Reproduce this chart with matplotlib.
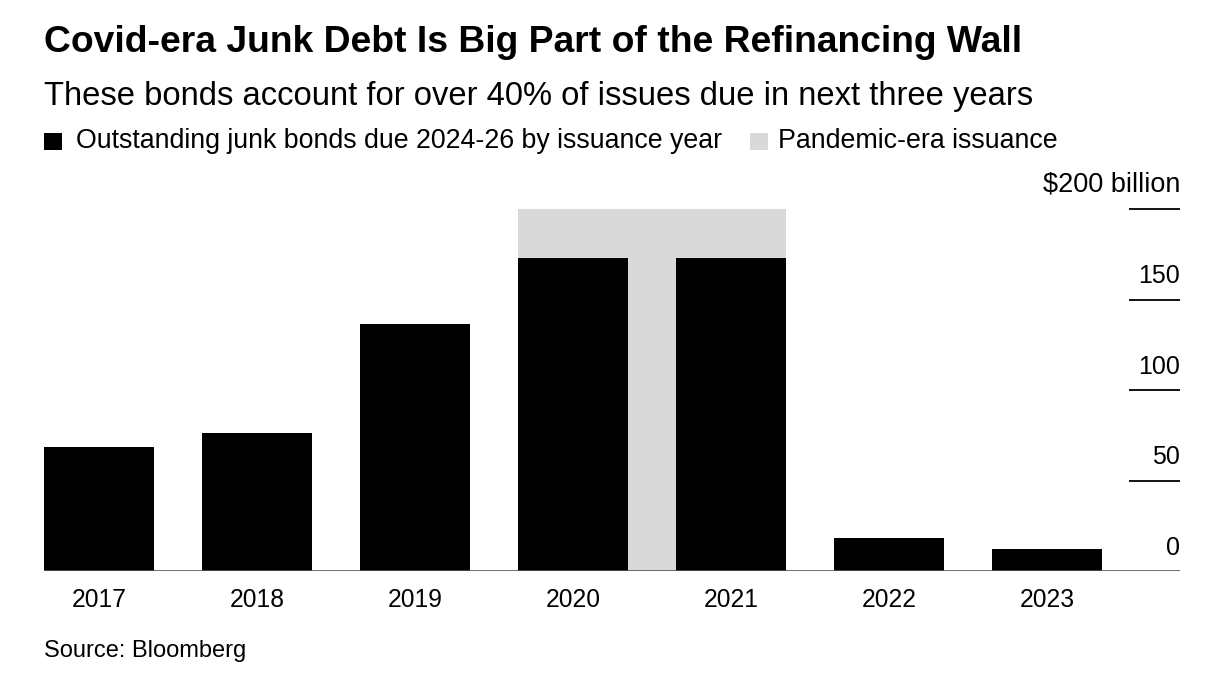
import matplotlib
matplotlib.use("Agg")
import matplotlib.pyplot as plt
from matplotlib.patches import Rectangle
import numpy as np

plt.rcParams['font.family'] = ['Liberation Sans', 'DejaVu Sans']

# --- data ---
years = ['2017', '2018', '2019', '2020', '2021', '2022', '2023']
outstanding = [68.3, 76.4, 136.5, 172.7, 172.7, 18.3, 12.2]   # $ billion
pandemic_years = ['2020', '2021']
pandemic_top = 200
yticks = [0, 50, 100, 150, 200]
ytick_labels = ['0', '50', '100', '150', '$200 billion']

W, H = 1208, 678
fig = plt.figure(figsize=(W / 100, H / 100), dpi=100)
ax = fig.add_axes([44 / W, 1 - 571 / H, (1180 - 44) / W, (571 - 209) / H])

x = np.arange(len(years))
bar_w = 0.696

# shaded pandemic span, behind the bars
i0 = years.index(pandemic_years[0])
i1 = years.index(pandemic_years[-1])
ax.add_patch(Rectangle((i0 - bar_w / 2, 0), (i1 - i0) + bar_w, pandemic_top,
                       facecolor='#d9d9d9', edgecolor='none', zorder=1))

ax.bar(x, outstanding, width=bar_w, color='black', zorder=2)

ax.set_xlim(-0.348, 6.84)
ax.set_ylim(0, 200)
for s in ax.spines.values():
    s.set_visible(False)
ax.set_yticks([])
ax.set_xticks(x)
ax.set_xticklabels(years, fontsize=17.7)
ax.tick_params(axis='x', length=0, pad=12)

# baseline
ax.axhline(0, color='#555555', lw=1.2, zorder=3)

# right-side value axis: short lines with labels sitting above
x_tick0, x_tick1 = 6.52, 6.84
for v, lab in zip(yticks, ytick_labels):
    if v > 0:
        ax.hlines(v, x_tick0, x_tick1, color='black', lw=1.3, clip_on=False, zorder=3)
    fs = 19.5 if v == yticks[-1] else 18
    ax.annotate(lab, (x_tick1, v), xytext=(0, 8), textcoords='offset points',
                ha='right', va='bottom', fontsize=fs, annotation_clip=False)

# titles
fig.text(44 / W, 1 - 43 / H, 'Covid-era Junk Debt Is Big Part of the Refinancing Wall',
         fontsize=26.8, fontweight='bold', va='center', ha='left')
fig.text(44 / W, 1 - 97 / H, 'These bonds account for over 40% of issues due in next three years',
         fontsize=23.6, va='center', ha='left')

# legend
fig.patches.append(Rectangle((44 / W, 1 - 150 / H), 18 / W, 17 / H, facecolor='black',
                             transform=fig.transFigure, figure=fig))
fig.text(76 / W, 1 - 141 / H, 'Outstanding junk bonds due 2024-26 by issuance year',
         fontsize=19.3, va='center', ha='left')
fig.patches.append(Rectangle((750 / W, 1 - 150 / H), 18 / W, 17 / H, facecolor='#d9d9d9',
                             transform=fig.transFigure, figure=fig))
fig.text(778 / W, 1 - 141 / H, 'Pandemic-era issuance',
         fontsize=19.3, va='center', ha='left')

fig.text(44 / W, 1 - 651 / H, 'Source: Bloomberg', fontsize=17, va='center', ha='left')

fig.savefig('out.png', dpi=100, facecolor='white')
